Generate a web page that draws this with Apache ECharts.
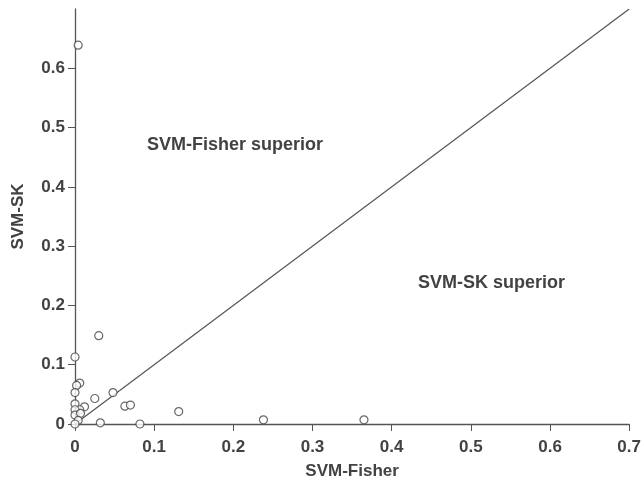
<!DOCTYPE html>
<html>
<head>
<meta charset="utf-8">
<script src="https://cdn.jsdelivr.net/npm/echarts@6/dist/echarts.min.js"></script>
<style>
  html, body { margin: 0; padding: 0; background: #fff; }
  #main { width: 644px; height: 487px; }
</style>
</head>
<body>
<div id="main"></div>
<script>
// SVM-Fisher (x) vs SVM-SK (y) values
const fisher = [0.004, 0.030, 0.000, 0.006, 0.002, 0.000, 0.025, 0.048, 0.000, 0.012,
  0.006, 0.000, 0.000, 0.007, 0.004, 0.000, 0.032, 0.063, 0.070, 0.082, 0.131, 0.238, 0.365];
const svmsk = [0.639, 0.149, 0.113, 0.069, 0.065, 0.053, 0.043, 0.053, 0.034, 0.029,
  0.024, 0.024, 0.015, 0.018, 0.006, 0.000, 0.002, 0.030, 0.032, 0.000, 0.021, 0.007, 0.007];
const diagonal = [[0, 0], [0.7, 0.7]];
const yTicks = [0, 0.1, 0.2, 0.3, 0.4, 0.5, 0.6];

const points = fisher.map((v, i) => [v, svmsk[i]]);
const textColor = '#424242';
const lineColor = '#555';
const font = 'Liberation Sans';

const chart = echarts.init(document.getElementById('main'));
chart.setOption({
  backgroundColor: '#fff',
  animation: false,
  grid: { left: 75, right: 13, top: 9, bottom: 63 },
  xAxis: {
    type: 'value',
    min: 0, max: 0.7, interval: 0.1,
    name: 'SVM-Fisher',
    nameLocation: 'middle',
    nameGap: 39,
    nameTextStyle: { color: textColor, fontSize: 17, fontWeight: 'bold', fontFamily: font },
    splitLine: { show: false },
    axisLine: { lineStyle: { color: lineColor, width: 1.3 } },
    axisTick: { show: true, length: 7, lineStyle: { color: lineColor } },
    axisLabel: { color: textColor, fontSize: 17, fontWeight: 'bold', margin: 15, fontFamily: font }
  },
  yAxis: {
    type: 'value',
    min: 0, max: 0.7, interval: 0.1,
    name: 'SVM-SK',
    nameLocation: 'middle',
    nameGap: 48,
    nameRotate: 90,
    nameTextStyle: { color: textColor, fontSize: 17, fontWeight: 'bold', fontFamily: font },
    splitLine: { show: false },
    axisLine: { show: true, lineStyle: { color: lineColor, width: 1.3 } },
    axisTick: { show: true, length: 7, customValues: yTicks, lineStyle: { color: lineColor } },
    axisLabel: { color: textColor, fontSize: 17, fontWeight: 'bold', margin: 10, customValues: yTicks, fontFamily: font }
  },
  graphic: [
    { type: 'text', left: 147, top: 136, style: { text: 'SVM-Fisher superior', fill: textColor, fontSize: 18, fontWeight: 'bold', fontFamily: font } },
    { type: 'text', left: 418, top: 274, style: { text: 'SVM-SK superior', fill: textColor, fontSize: 18, fontWeight: 'bold', fontFamily: font } }
  ],
  series: [
    {
      type: 'line',
      data: diagonal,
      symbol: 'none',
      lineStyle: { color: lineColor, width: 1.2 },
      z: 1
    },
    {
      type: 'scatter',
      data: points,
      symbol: 'circle',
      symbolSize: 8,
      itemStyle: { color: '#fff', borderColor: '#444', borderWidth: 1.2 },
      z: 3
    }
  ]
});
</script>
</body>
</html>
